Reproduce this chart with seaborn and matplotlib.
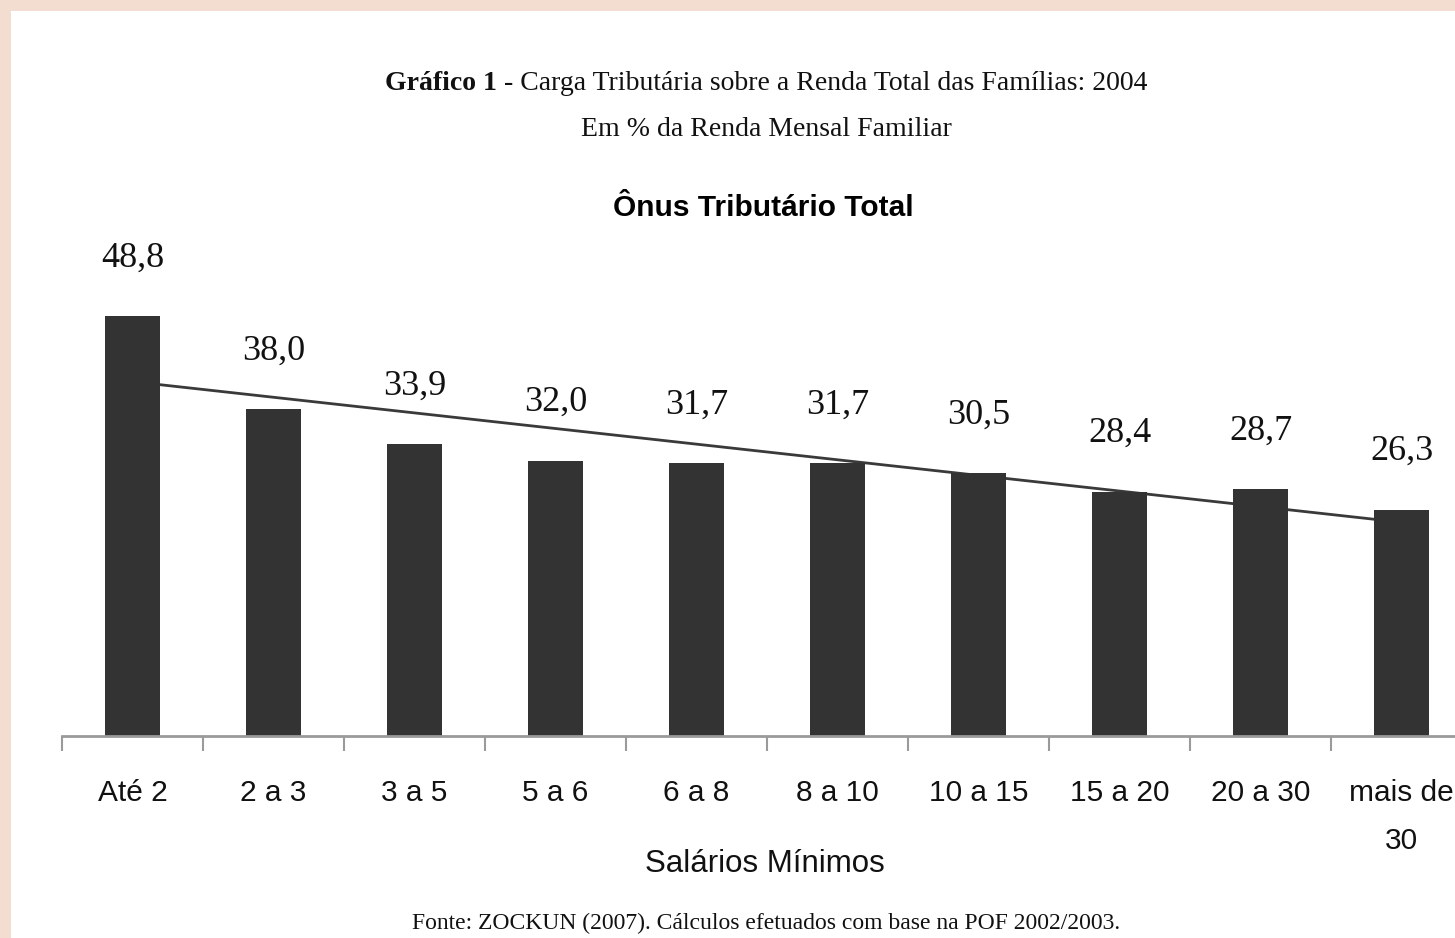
import numpy as np
import pandas as pd
import matplotlib
matplotlib.use("Agg")
import matplotlib.pyplot as plt
from matplotlib import font_manager
from matplotlib.patches import Rectangle
import seaborn as sns

# ---- data ----
categories = ["Até 2", "2 a 3", "3 a 5", "5 a 6", "6 a 8", "8 a 10",
              "10 a 15", "15 a 20", "20 a 30", "mais de\n30"]
values = [48.8, 38.0, 33.9, 32.0, 31.7, 31.7, 30.5, 28.4, 28.7, 26.3]

title_bold = "Gráfico 1"
title_rest = " - Carga Tributária sobre a Renda Total das Famílias: 2004"
subtitle = "Em % da Renda Mensal Familiar"
chart_title = "Ônus Tributário Total"
xlabel = "Salários Mínimos"
source = "Fonte: ZOCKUN (2007). Cálculos efetuados com base na POF 2002/2003."

sns.set_style("white")
names = {f.name for f in font_manager.fontManager.ttflist}
NARROW = "Liberation Sans Narrow" in names
SANS = "Liberation Sans Narrow" if NARROW else "Liberation Sans"
SERIF = "Liberation Serif"
plt.rcParams["font.family"] = [SANS, "DejaVu Sans"]

W, H = 1455, 938
fig = plt.figure(figsize=(W / 100, H / 100), dpi=100)
fig.patch.set_facecolor("#F2DDD0")
fig.patches.append(Rectangle((11 / W, 0), 1, 1 - 11 / H, transform=fig.transFigure,
                             facecolor="white", edgecolor="none", zorder=-5))

def fx(px):
    return px / W

def fy(py):
    return 1 - py / H

ymax = 50
ax = fig.add_axes([fx(62), fy(736), 1410 / W, ymax * 8.607 / H])
ax.set_zorder(1)
ax.set_facecolor("none")

df = pd.DataFrame({"cat": categories, "val": values})
sns.barplot(data=df, x="cat", y="val", color="#333333", saturation=1,
            width=0.39, ax=ax, zorder=2, linewidth=0, edgecolor="#333333")

# linear trendline
xs = np.arange(len(values))
coef = np.polyfit(xs, values, 1)
ax.plot(xs, np.polyval(coef, xs), color="#3a3a3a", lw=2.0, zorder=1)

for i, v in enumerate(values):
    ax.annotate(f"{v:.1f}".replace(".", ","), xy=(i, v), xytext=(0, 58 * 0.72),
                textcoords="offset points", ha="center", va="center",
                fontsize=26, family=SERIF, color="#111111", annotation_clip=False)

ax.set_xlim(-0.5, len(values) - 0.5)
ax.set_ylim(0, ymax)
ax.set_yticks([])
ax.set_xlabel("")
ax.set_ylabel("")
for s in ["top", "right", "left"]:
    ax.spines[s].set_visible(False)
ax.spines["bottom"].set_color("#9a9a9a")
ax.spines["bottom"].set_linewidth(2)
ax.set_xticks(xs)
ax.set_xticklabels(categories, fontsize=25 if NARROW else 21.5, color="#111111",
                   linespacing=1.9)
ax.tick_params(axis="x", which="major", length=0, pad=31)
ax.set_xticks(np.arange(-0.5, len(values) + 0.5, 1), minor=True)
ax.tick_params(axis="x", which="minor", length=11, width=1.5, color="#9a9a9a",
               direction="out", bottom=True)

# titles
fig.canvas.draw()
r = fig.canvas.get_renderer()
t1 = fig.text(0, fy(90), title_bold, fontsize=20, family=SERIF, fontweight="bold",
              va="baseline", ha="left", color="#111111")
t2 = fig.text(0, fy(90), title_rest, fontsize=20, family=SERIF,
              va="baseline", ha="left", color="#111111")
w1 = t1.get_window_extent(r).width
w2 = t2.get_window_extent(r).width
x0 = 766 - (w1 + w2) / 2
t1.set_x(fx(x0))
t2.set_x(fx(x0 + w1))
fig.text(fx(766), fy(136), subtitle, fontsize=20, family=SERIF, ha="center",
         va="baseline", color="#111111")
fig.text(fx(763), fy(216), chart_title, fontsize=24 if NARROW else 21.5,
         fontweight="bold", family=SANS, ha="center", va="baseline", color="#000000")
fig.text(fx(765), fy(872), xlabel, fontsize=25 if NARROW else 22.5, family=SANS,
         ha="center", va="baseline", color="#111111")
fig.text(fx(766), fy(929), source, fontsize=17, family=SERIF, ha="center",
         va="baseline", color="#111111")

fig.savefig("out.png", dpi=100, facecolor=fig.get_facecolor())
